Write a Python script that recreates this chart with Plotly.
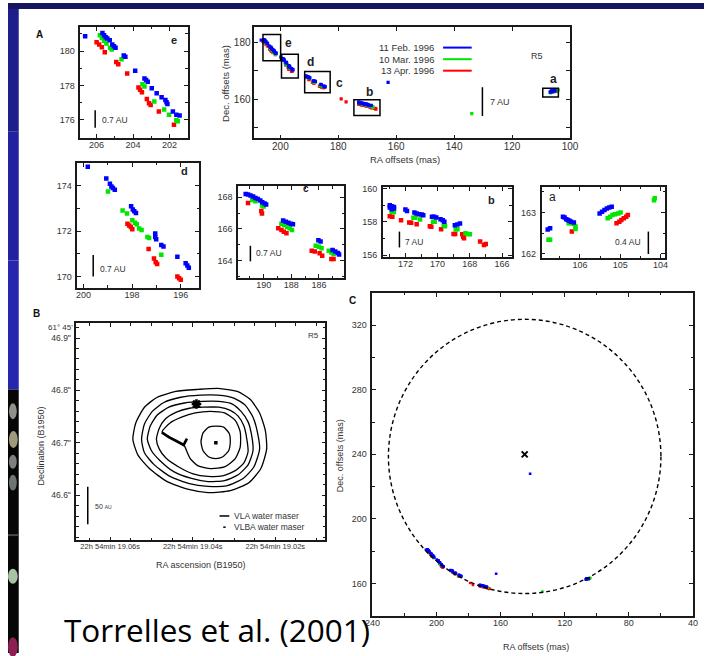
import plotly.graph_objects as go

# ===================== DATA =====================
# Water maser spots (RA offset, Dec offset in mas) for three epochs
blue_ra = [206.63, 205.68, 205.59, 205.50, 205.41, 205.28, 205.14, 205.05, 204.96, 204.51, 204.42, 203.88,
           203.37, 203.28, 203.19, 202.97, 202.70, 202.43, 202.22, 202.16, 202.11, 201.81, 201.62, 201.44,
           199.82, 199.06, 198.91, 198.85, 198.79, 198.71, 198.04, 197.97, 197.91, 197.84, 197.05, 197.05,
           197.01, 196.80, 196.71, 196.14, 195.80, 195.73, 195.67,
           191.30, 191.13, 190.95, 190.76, 190.59, 190.42, 190.24, 190.10, 189.93, 189.82, 188.59, 188.40,
           188.21, 188.02, 187.88, 186.04, 185.88, 185.01, 184.82, 184.63, 184.54,
           172.97, 172.85, 172.71, 172.97, 172.85, 172.71, 172.00, 171.90, 171.44, 171.30, 171.15, 170.99,
           170.89, 170.35, 170.22, 170.08, 169.82, 169.68, 169.58, 168.93, 168.77, 168.61,
           106.80, 106.74, 106.42, 106.38, 106.34, 106.30, 106.26, 106.22, 106.15, 105.51, 105.45, 105.39,
           105.33, 105.27, 105.21,
           162.8, 141.6]
blue_dec = [180.86, 181.05, 180.92, 180.81, 180.73, 180.63, 180.38, 180.29, 180.19, 179.75, 179.67, 178.85,
            178.40, 178.31, 178.21, 177.83, 177.54, 177.31, 177.15, 177.02, 176.92, 176.48, 176.29, 176.25,
            174.84, 174.33, 174.09, 173.97, 173.90, 173.83, 173.10, 172.95, 172.88, 172.80, 171.89, 171.74,
            171.64, 171.39, 171.32, 170.87, 170.58, 170.48, 170.38,
            168.21, 168.17, 168.11, 168.04, 167.96, 167.89, 167.79, 167.69, 167.60, 167.54, 166.54, 166.46,
            166.39, 166.33, 166.29, 165.29, 165.21, 164.67, 164.58, 164.48, 164.38,
            159.00, 158.94, 158.90, 158.86, 158.76, 158.80, 158.74, 158.66, 158.56, 158.50, 158.46, 158.44,
            158.40, 158.30, 158.30, 158.26, 158.16, 158.10, 158.00, 157.80, 157.84, 157.90,
            162.59, 162.62, 162.90, 162.88, 162.84, 162.82, 162.80, 162.78, 162.76, 162.98, 163.02, 163.06,
            163.10, 163.12, 163.14,
            166.0, 228.0]

green_ra = [205.82, 205.71, 205.59, 205.46, 205.26, 205.17, 204.63, 203.48, 203.37, 202.83, 202.29, 202.02,
            201.62, 201.54,
            198.99, 198.39, 198.21, 197.99, 197.88, 197.81, 197.71, 197.61, 197.37, 197.30, 196.80,
            190.83, 190.59, 190.12, 190.00, 188.71, 188.52, 188.30, 188.12, 187.95, 186.23, 186.00, 185.81,
            185.29, 185.10, 184.94,
            172.85, 172.71, 171.50, 171.39, 171.09, 170.28, 170.18, 169.62, 169.54, 168.87, 168.77, 168.27,
            168.12, 168.00,
            106.78, 106.74, 106.28, 106.22, 106.15, 106.11, 106.11, 105.31, 105.25, 105.19, 105.13, 105.05,
            104.99, 104.16, 104.14,
            133.9]
green_dec = [180.92, 180.77, 180.61, 180.44, 180.19, 180.09, 179.52, 178.07, 177.94, 177.06, 176.60, 176.29,
             175.97, 175.91,
             173.75, 172.91, 172.78, 172.48, 172.37, 172.30, 172.12, 172.05, 171.74, 171.69, 170.96,
             167.83, 167.75, 167.48, 167.42, 166.33, 166.25, 166.14, 166.04, 165.94, 164.94, 164.88, 164.79,
             164.63, 164.52, 164.42,
             158.60, 158.60, 158.24, 158.24, 158.14, 158.00, 158.00, 157.80, 157.74, 157.55, 157.55, 157.31,
             157.27, 157.25,
             162.34, 162.34, 162.74, 162.74, 162.72, 162.66, 162.60, 162.86, 162.90, 162.94, 162.96, 162.98,
             163.00, 163.30, 163.35,
             155.0]

red_ra = [206.00, 205.86, 205.71, 205.55, 204.92, 204.81, 204.32, 203.70, 203.61, 203.51, 203.24, 203.12,
          203.03, 202.58, 201.75,
          198.19, 198.12, 198.05, 197.99, 197.32, 197.10, 197.03, 196.97, 196.14, 196.07, 196.00,
          191.13, 190.17, 190.12, 188.94, 188.71, 188.54, 188.35, 186.52, 186.30, 185.95, 185.76, 185.10,
          184.94,
          172.97, 172.81, 172.27, 171.76, 171.64, 171.30, 170.48, 170.39, 169.78, 169.01, 168.91, 168.47,
          168.41, 168.36, 167.36, 167.12, 167.01,
          106.20, 105.09, 105.02, 104.97, 104.91, 104.85, 104.81,
          179.0, 177.3]
red_dec = [180.52, 180.38, 180.23, 179.94, 179.37, 179.23, 178.69, 177.88, 177.75, 177.60, 177.21, 176.96,
           176.86, 176.48, 175.71,
           172.32, 172.25, 172.18, 172.08, 171.21, 170.79, 170.62, 170.55, 169.99, 169.92, 169.85,
           167.64, 167.13, 166.98, 166.04, 165.94, 165.83, 165.73, 164.63, 164.58, 164.46, 164.31, 164.11,
           164.11,
           158.34, 158.30, 158.10, 157.96, 157.94, 157.86, 157.74, 157.70, 157.55, 157.27, 157.27, 157.25,
           157.10, 157.01, 156.81, 156.61, 156.67,
           162.54, 162.74, 162.78, 162.82, 162.86, 162.90, 162.94,
           160.2, 159.1]

epoch_labels = ["11 Feb. 1996", "10 Mar. 1996", "13 Apr. 1996"]

# fitted circle (panel C): centre and radius in mas
circle_center = [145.0, 238.7]
circle_radius = 85.0

# Panel B: VLA continuum contours (RA in ms of time after 22h54m19.00s, Dec in arcsec after 61d45')
contour_ra = [
    [54.5, 53.8, 51.7, 48.6, 44.1, 38.7, 33.9, 29.2, 26.1, 23.8, 22.4, 22.1, 23.5, 26.4, 30.9, 36.3, 41.0, 46.2, 50.5, 53.3],
    [52.4, 51.7, 49.8, 47.0, 42.9, 38.2, 33.9, 29.9, 27.3, 25.4, 24.3, 23.8, 25.2, 27.8, 31.8, 36.3, 40.8, 45.5, 49.3, 51.7],
    [51.0, 50.3, 48.6, 45.8, 42.0, 37.7, 33.7, 30.4, 28.3, 26.6, 25.7, 25.4, 26.6, 29.0, 32.3, 36.3, 40.3, 44.6, 47.9, 50.0],
    [48.8, 48.1, 46.7, 44.1, 40.8, 37.3, 33.7, 30.9, 29.0, 27.6, 26.9, 26.6, 27.6, 29.7, 32.8, 36.3, 39.9, 43.4, 46.5, 48.1],
    [47.4, 45.5, 42.7, 39.4, 35.8, 32.3, 29.7, 28.5, 28.5, 29.7, 32.3, 35.6, 38.7, 40.6, 41.5, 42.0, 44.1, 46.0],
    [38.0, 37.5, 36.1, 34.4, 32.5, 31.1, 30.9, 31.3, 32.8, 34.4, 36.1, 37.5],
]
contour_dec = [
    [46.707, 46.738, 46.768, 46.787, 46.798, 46.802, 46.804, 46.798, 46.783, 46.757, 46.723, 46.688, 46.651, 46.624, 46.609, 46.605, 46.611, 46.626, 46.651, 46.677],
    [46.707, 46.736, 46.760, 46.777, 46.787, 46.791, 46.791, 46.785, 46.772, 46.749, 46.719, 46.688, 46.654, 46.632, 46.618, 46.617, 46.622, 46.636, 46.658, 46.681],
    [46.707, 46.732, 46.753, 46.768, 46.776, 46.779, 46.779, 46.774, 46.760, 46.740, 46.713, 46.685, 46.658, 46.639, 46.628, 46.626, 46.632, 46.645, 46.666, 46.685],
    [46.707, 46.728, 46.745, 46.758, 46.766, 46.768, 46.768, 46.762, 46.751, 46.732, 46.707, 46.683, 46.662, 46.647, 46.637, 46.636, 46.641, 46.654, 46.671, 46.688],
    [46.721, 46.738, 46.749, 46.757, 46.760, 46.757, 46.743, 46.721, 46.692, 46.670, 46.654, 46.651, 46.656, 46.670, 46.685, 46.694, 46.704, 46.713],
    [46.702, 46.719, 46.730, 46.732, 46.730, 46.717, 46.702, 46.685, 46.673, 46.670, 46.673, 46.685],
]
vla_arc_ra = [47.5, 45.8, 44.1, 42.2, 41.4]
vla_arc_dec = [46.720, 46.711, 46.704, 46.696, 46.708]
vla_star_ra = [39.1]
vla_star_dec = [46.774]
vlba_ra = [34.4]
vlba_dec = [46.700]
b_legend_labels = ["VLA water maser", "VLBA water maser"]

# ===================== LAYOUT HELPERS =====================
W, H = 713, 656
def fx(px):
    return px / W
def fy(py):
    return 1 - py / H

FONT = "Liberation Sans"
TXT = "#333333"
LINE = "#1a1a1a"

fig = go.Figure()

# panels: key -> (suffix, x px, y px, xrange, yrange, x ticks, y ticks, x minor, y minor)
panels = {
    "e": ("", (74, 184), (24.3, 136), [206.9, 201.0], [174.95, 181.4], [206, 204, 202], [176, 178, 180], 1, 1),
    "main": ("2", (252.3, 575.7), (24.7, 136.7), [209, 100], [146.25, 185.3], [200, 180, 160, 140, 120, 100], [150, 160, 170, 180], None, None),
    "d": ("3", (71, 195.7), (161.7, 287.3), [200.25, 195.25], [169.5, 175.0], [200, 198, 196], [170, 172, 174], 1, 1),
    "c": ("4", (235.7, 344), (185, 277.3), [191.85, 184.2], [162.92, 168.69], [190, 188, 186], [164, 166, 168], 1, 1),
    "b": ("5", (384, 516), (185.7, 256), [173.4, 165.4], [155.9, 160.1], [172, 170, 168, 166], [156, 158, 160], 1, 1),
    "a": ("6", (546.7, 673.3), (185.7, 257.3), [106.95, 103.88], [161.9, 163.62], [106, 105, 104], [162, 163], 0.5, 0.5),
    "B": ("7", (70, 325), (323.3, 542.3), [68.2, 7.9], [46.514, 46.928], [60, 40, 20], [46.6, 46.7, 46.8, 46.9], 5, 0.02),
    "C": ("8", (373.3, 701.7), (292.7, 618.3), [240, 40], [140, 340], [240, 200, 160, 120, 80, 40], [160, 200, 240, 280, 320], 20, 20),
}

layout_axes = {}
for key, (suf, xp, yp, xr, yr, xt, yt, xm, ym) in panels.items():
    base = dict(showline=True, linecolor=LINE, linewidth=1.5, mirror="ticks", ticks="inside",
                ticklen=4, tickwidth=1, tickcolor=LINE, showgrid=False, zeroline=False,
                tickfont=dict(size=9, color=TXT, family=FONT), fixedrange=True)
    xa = dict(base, domain=[fx(xp[0]), fx(xp[1])], range=xr, anchor="y" + suf,
              tickmode="array", tickvals=xt, ticktext=[str(v) for v in xt], ticklabelstandoff=-2)
    ya = dict(base, domain=[fy(yp[1]), fy(yp[0])], range=yr, anchor="x" + suf,
              tickmode="array", tickvals=yt, ticktext=[str(v) for v in yt], ticklabelstandoff=2)
    if xm:
        xa["minor"] = dict(ticks="inside", ticklen=2.5, tickcolor=LINE, dtick=xm, tick0=0)
    if ym:
        ya["minor"] = dict(ticks="inside", ticklen=2.5, tickcolor=LINE, dtick=ym, tick0=0)
    layout_axes[key] = (suf, xa, ya)

# customise specific axes
_, xa, ya = layout_axes["main"]
ya["ticktext"] = ["", "160", "", "180"]
xa["tickfont"] = dict(size=10, color=TXT, family=FONT)
ya["tickfont"] = dict(size=10, color=TXT, family=FONT)
ya["ticklabelstandoff"] = 0
_, xa, ya = layout_axes["B"]
xa["ticktext"] = ["22h 54min 19.06s", "22h 54min 19.04s", "22h 54min 19.02s"]
xa["tickfont"] = dict(size=7.5, color=TXT, family=FONT)
ya["ticktext"] = ['46.6"', '46.7"', '46.8"', '46.9"']
ya["tickfont"] = dict(size=8.5, color=TXT, family=FONT)

layout_kw = {}
for key, (suf, xa, ya) in layout_axes.items():
    n = suf if suf else ""
    layout_kw["xaxis" + n] = xa
    layout_kw["yaxis" + n] = ya

# ===================== TRACES =====================
epochs = [(red_ra, red_dec, "#ff0000"), (green_ra, green_dec, "#00e600"), (blue_ra, blue_dec, "#0000ff")]
size_for = {"e": 4.5, "d": 4.5, "c": 4.5, "b": 4.5, "a": 4.5, "main": 3.2, "C": 2.6}
for key, msize in size_for.items():
    suf = panels[key][0]
    for ra, dec, col in epochs:
        fig.add_trace(go.Scatter(x=ra, y=dec, mode="markers", xaxis="x" + suf, yaxis="y" + suf,
                                 marker=dict(symbol="square", size=msize, color=col, line=dict(width=0)),
                                 showlegend=False, hoverinfo="skip"))

# centre of circle in panel C
fig.add_trace(go.Scatter(x=[circle_center[0]], y=[circle_center[1] + 1.3], mode="markers",
                         xaxis="x8", yaxis="y8",
                         marker=dict(symbol="x-thin", size=6, color="black", line=dict(width=2, color="black")),
                         showlegend=False, hoverinfo="skip"))

# panel B contours
for cra, cdec in zip(contour_ra, contour_dec):
    fig.add_trace(go.Scatter(x=cra + cra[:1], y=cdec + cdec[:1], mode="lines", xaxis="x7", yaxis="y7",
                             line=dict(color="black", width=1.3, shape="spline", smoothing=0.6),
                             showlegend=False, hoverinfo="skip"))
fig.add_trace(go.Scatter(x=vla_arc_ra, y=vla_arc_dec, mode="lines", xaxis="x7", yaxis="y7",
                         line=dict(color="black", width=2.6), showlegend=False, hoverinfo="skip"))
fig.add_trace(go.Scatter(x=vla_star_ra, y=vla_star_dec, mode="markers", xaxis="x7", yaxis="y7",
                         marker=dict(symbol="asterisk-open", size=8, color="black",
                                     line=dict(width=2.5, color="black")),
                         showlegend=False, hoverinfo="skip"))
fig.add_trace(go.Scatter(x=vlba_ra, y=vlba_dec, mode="markers", xaxis="x7", yaxis="y7",
                         marker=dict(symbol="square", size=3.5, color="black"),
                         showlegend=False, hoverinfo="skip"))

# ===================== SHAPES =====================
shapes = []
def prect(x0, y0, x1, y1, color, layer="below"):
    shapes.append(dict(type="rect", xref="paper", yref="paper", x0=fx(x0), x1=fx(x1), y0=fy(y1), y1=fy(y0),
                       fillcolor=color, line=dict(width=0), layer=layer))
def pline(x0, y0, x1, y1, color="black", width=1.5):
    shapes.append(dict(type="line", xref="paper", yref="paper", x0=fx(x0), x1=fx(x1), y0=fy(y0), y1=fy(y1),
                       line=dict(color=color, width=width)))
def pell(x0, y0, x1, y1, color):
    shapes.append(dict(type="circle", xref="paper", yref="paper", x0=fx(x0), x1=fx(x1), y0=fy(y1), y1=fy(y0),
                       fillcolor=color, line=dict(width=0), layer="below"))

# slide background
prect(0, 0, 713, 6, "#16165e")
prect(0, 6, 11, 130, "#1f1f8c")
prect(0, 130, 11, 260, "#2222a0")
prect(0, 260, 11, 390, "#2626ae")
prect(0, 390, 11, 656, "#060606")
pell(1, 404, 9, 420, "#8d918a")
pell(1, 432, 10, 449, "#a09a7c")
pell(1, 456, 9, 470, "#7c8080")
pell(1, 476, 9, 492, "#6e7474")
prect(0, 536, 11, 538, "#4a4a4a")
pell(0, 571, 10, 586, "#a9c2a2")
pell(0, 640, 10, 660, "#8e1f52")

# main-panel legend lines
leg_cols = ["#0000ff", "#00e600", "#ff0000"]
leg_y = [45, 56.7, 68.3]
for col, yy in zip(leg_cols, leg_y):
    pline(445.7, yy, 475, yy, col, 2)

# scale bars
pline(89.3, 108.3, 89.3, 126)
pline(87.3, 254.3, 87.3, 276)
pline(248.3, 245, 248.3, 260.7)
pline(401, 230.7, 401, 246.7)
pline(656, 230.7, 656, 253.3)
pline(486, 85, 486, 114)
pline(81.7, 488.3, 81.7, 526)

# B legend symbols
pline(216.7, 517.7, 226.7, 517.7, "black", 1.5)
pline(220.5, 529, 223, 529, "black", 1.5)

# zoom boxes on main panel (data coordinates)
zoom_boxes = [(206.0, 199.9, 173.6, 182.8), (199.6, 193.8, 167.5, 175.9), (191.6, 182.8, 162.3, 169.8),
              (174.6, 165.6, 154.3, 159.9), (109.4, 104.0, 160.8, 163.9)]
for x0, x1, y0, y1 in zoom_boxes:
    shapes.append(dict(type="rect", xref="x2", yref="y2", x0=x0, x1=x1, y0=y0, y1=y1,
                       line=dict(color="black", width=1.5)))

# fitted circle in panel C
shapes.append(dict(type="circle", xref="x8", yref="y8",
                   x0=circle_center[0] - circle_radius, x1=circle_center[0] + circle_radius,
                   y0=circle_center[1] - circle_radius, y1=circle_center[1] + circle_radius,
                   line=dict(color="black", width=1.4, dash="4px,3px")))

# ===================== ANNOTATIONS =====================
anns = []
def ann(text, px, py, size=9, xanchor="center", yanchor="middle", angle=0, color=TXT, family=FONT):
    anns.append(dict(text=text, x=fx(px), y=fy(py), xref="paper", yref="paper", showarrow=False,
                     xanchor=xanchor, yanchor=yanchor, textangle=angle,
                     font=dict(size=size, color=color, family=family)))

# panel letters
ann("<b>A</b>", 32, 32, 10, color="#111")
ann("<b>B</b>", 29.5, 313, 10, color="#111")
ann("<b>C</b>", 353, 300, 10, color="#111")
# subpanel letters
ann("<b>e</b>", 170, 37.5, 11, color="#222")
ann("<b>d</b>", 181, 170, 11, color="#222")
ann("<b>c</b>", 305, 187.5, 10, color="#222")
ann("<b>b</b>", 495, 198.5, 11, color="#222")
ann("a", 557.5, 196, 12, color="#222")
# main panel letters
for t, xx, yy in [("e", 287.5, 40), ("d", 309.5, 60), ("c", 340, 80.5), ("b", 370, 90), ("a", 559, 77)]:
    ann("<b>%s</b>" % t, xx, yy, 12, color="#222")
ann("R5", 541.7, 53.5, 9)
ann("7 AU", 491.5, 100, 9, xanchor="left")
# main panel legend text
for lab, yy in zip(epoch_labels, leg_y):
    ann(lab, 438.5, yy, 9.5, xanchor="right")
# axis titles
ann("Dec. offsets (mas)", 223, 81, 9.5, angle=-90)
ann("RA offsets (mas)", 407, 158, 9.5)
ann("Declination (B1950)", 33.5, 447, 9, angle=-90)
ann("RA ascension (B1950)", 198, 567, 9)
ann("Dec. offsets (mas)", 340, 456.5, 9, angle=-90)
ann("RA offsets (mas)", 541, 649.5, 9)
# scale bar labels
ann("0.7 AU", 94.5, 117.7, 8.5, xanchor="left")
ann("0.7 AU", 92.5, 268, 8.5, xanchor="left")
ann("0.7 AU", 252.5, 252.5, 8.5, xanchor="left")
ann("7 AU", 405, 241, 8.5, xanchor="left")
ann("0.4 AU", 650, 241, 8.5, xanchor="right")
ann("50 <span style='font-size:5px'>AU</span>", 87.5, 508.5, 7, xanchor="left")
# panel B extras
ann("R5", 313, 336, 8)
ann("61° 45'", 68.5, 327.5, 8, xanchor="right")
ann(b_legend_labels[0], 229.5, 517.7, 8.5, xanchor="left")
ann(b_legend_labels[1], 229.5, 529, 8.5, xanchor="left")
# slide caption
ann("Torrelles et al. (2001)", 55, 632, 31.5, xanchor="left", color="black", family="Open Sans")

fig.update_layout(
    width=W, height=H, margin=dict(l=0, r=0, t=0, b=0),
    paper_bgcolor="white", plot_bgcolor="rgba(0,0,0,0)",
    showlegend=False, shapes=shapes, annotations=anns,
    **layout_kw,
)

fig.write_html("out.html")
